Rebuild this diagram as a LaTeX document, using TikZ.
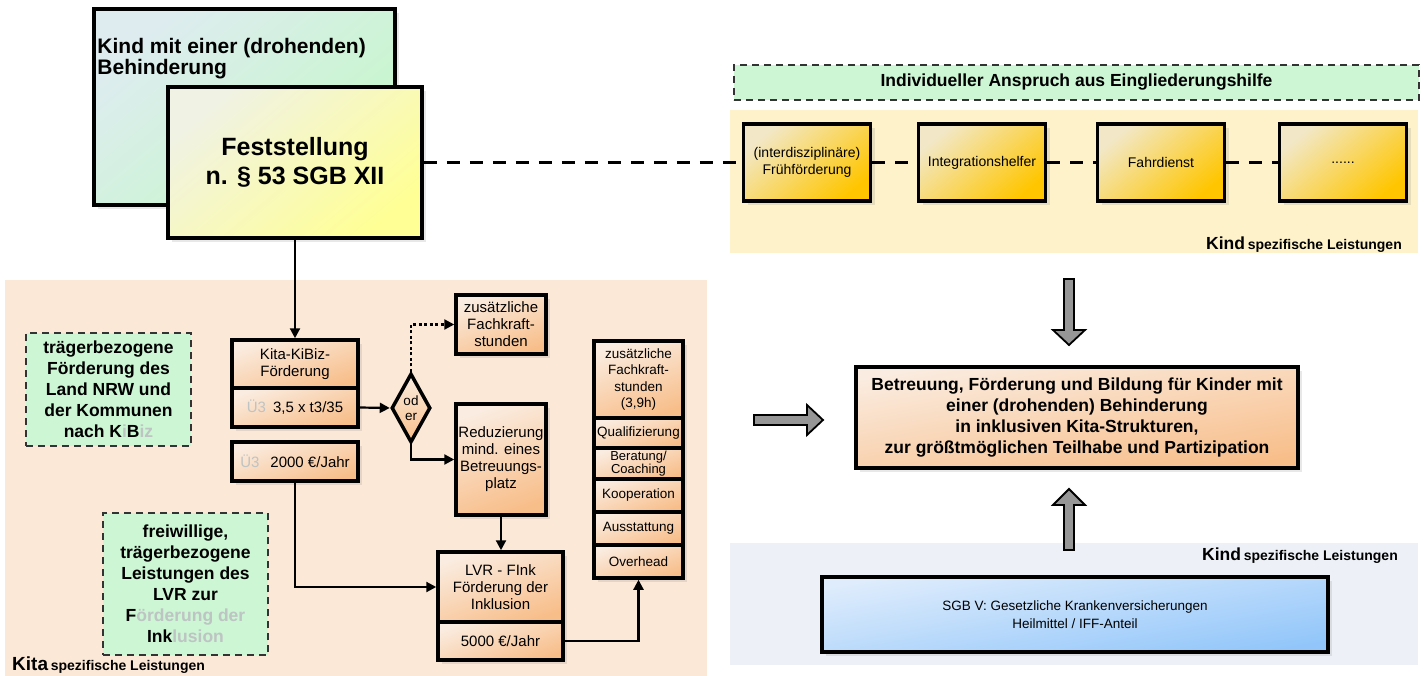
\documentclass[tikz,border=0pt]{standalone}
\usepackage{fontspec}
\setmainfont{Liberation Sans}
\usetikzlibrary{arrows.meta,shapes.geometric,shadows}

\definecolor{kitabg}{RGB}{252,232,214}
\definecolor{kindbg}{RGB}{253,242,202}
\definecolor{sgbbg}{RGB}{237,241,247}
\definecolor{mintA}{RGB}{222,236,240}
\definecolor{mintB}{RGB}{196,248,200}
\definecolor{mintC}{RGB}{204,246,212}
\definecolor{lemonA}{RGB}{240,242,228}
\definecolor{lemonB}{RGB}{255,255,150}
\definecolor{peachA}{RGB}{250,236,224}
\definecolor{peachB}{RGB}{248,190,138}
\definecolor{goldA}{RGB}{242,232,200}
\definecolor{goldB}{RGB}{255,198,0}
\definecolor{skyA}{RGB}{222,236,252}
\definecolor{skyB}{RGB}{146,198,250}
\definecolor{arrgray}{RGB}{150,150,150}
\definecolor{fade}{RGB}{190,195,195}

\tikzset{
  box/.style={draw, line width=3.5pt, align=center, inner sep=1pt,
    drop shadow={shadow xshift=4pt, shadow yshift=-4pt, opacity=0.18}},
  flowbox/.style={box, top color=peachA, bottom color=peachB, shading angle=20,
    font=\fontsize{15}{17}\selectfont},
  colbox/.style={flowbox, minimum width=89, font=\fontsize{13.5}{16.5}\selectfont},
  kindbox/.style={box, top color=goldA, bottom color=goldB, shading angle=40,
    minimum width=127, minimum height=77, font=\fontsize{14}{17}\selectfont},
  infobox/.style={draw=black!80, line width=1.8pt, dash pattern=on 7pt off 5pt,
    fill=mintC, align=center, font=\fontsize{17.5}{21}\selectfont\bfseries},
  conn/.style={line width=2.2pt, -{Triangle[length=10pt,width=10pt]}},
  dashconn/.style={line width=2.2pt, dash pattern=on 13pt off 10pt},
  bigarrow/.style={draw, line width=1.8pt, fill=arrgray, line join=miter},
  leistung/.style={inner sep=0pt}
}

\begin{document}
\begin{tikzpicture}[x=1pt,y=-1pt]
\useasboundingbox (0,0) rectangle (1424,676);

% backgrounds
\fill[kitabg] (5,280) rectangle (707,676);
\fill[kindbg] (730,110) rectangle (1418,253);
\fill[sgbbg] (730,543) rectangle (1418,665);

% top left
\node[box, top color=mintA, bottom color=mintB, shading angle=40,
  minimum width=301, minimum height=196,
  label={[anchor=north west, align=left, inner sep=0pt, xshift=5pt, yshift=-31pt,
    font=\fontsize{21}{21}\selectfont\bfseries]north west:Kind mit einer (drohenden)\\Behinderung}]
  (kind) at (244.5,107) {};
\node[box, top color=lemonA, bottom color=lemonB, shading angle=40,
  minimum width=254, minimum height=151, font=\fontsize{25}{29}\selectfont\bfseries]
  (fest) at (295,162.5) {Feststellung\\n. § 53 SGB XII};

% top right
\node[infobox, minimum width=685, minimum height=35] (anspruch) at (1076.5,82.5)
  {Individueller Anspruch aus Eingliederungshilfe};
\node[kindbox] (frueh) at (807,162.5) {(interdisziplinäre)\\Frühförderung};
\node[kindbox] (integ) at (982,162.5) {Integrationshelfer};
\node[kindbox] (fahr) at (1161,162.5) {Fahrdienst};
\node[kindbox] (weitere) at (1343,162.5) {......};
\node[leistung, anchor=base east] (kindlabA) at (1402,250)
  {{\fontsize{17.5}{18}\selectfont\bfseries Kind} {\fontsize{14}{14}\selectfont\bfseries spezifische Leistungen}};

\draw[dashconn] (fest.east) -- (frueh.west) (frueh.east) -- (integ.west)
  (integ.east) -- (fahr.west) (fahr.east) -- (weitere.west);

% left: Kita
\node[infobox, minimum width=165, minimum height=113] (landinfo) at (108.5,389.5)
  {trägerbezogene\\Förderung des\\Land NRW und\\der Kommunen\\nach K\textcolor{fade}{i}B\textcolor{fade}{iz}};
\node[infobox, minimum width=165, minimum height=142] (lvrinfo) at (185.5,584)
  {freiwillige,\\trägerbezogene\\Leistungen des\\LVR zur\\F\textcolor{fade}{örderung der}\\Ink\textcolor{fade}{lusion}};

\node[flowbox, minimum width=126, minimum height=48] (kibiz) at (295,364) {Kita-KiBiz-\\Förderung};
\node[flowbox, minimum width=126, minimum height=39] (kibizsatz) at (295,407.5)
  {\textcolor{fade}{Ü3}\hspace{7pt}3,5 x t3/35};
\node[flowbox, minimum width=126, minimum height=39] (u3satz) at (295,461.5)
  {\textcolor{fade}{Ü3}\hspace{11pt}2000 €/Jahr};
\node[draw, diamond, line width=3.5pt, top color=peachA, bottom color=peachB,
  aspect=0.5, minimum width=39, minimum height=69, inner sep=0pt, align=center,
  font=\fontsize{13.5}{15}\selectfont] (oder) at (411,408) {od\\er};
\node[flowbox, minimum width=90, minimum height=59] (fkstd) at (501,324.5)
  {zusätzliche\\Fachkraft-\\stunden};
\node[flowbox, minimum width=90, minimum height=111] (reduz) at (501,459.5)
  {Reduzierung\\mind. eines\\Betreuungs-\\platz};
\node[flowbox, minimum width=125, minimum height=70] (fink) at (500.5,587)
  {LVR - FInk\\Förderung der\\Inklusion};
\node[flowbox, minimum width=125, minimum height=38] (finksatz) at (500.5,641) {5000 €/Jahr};

\node[colbox, minimum height=77] (fkplus) at (638.5,379.5) {zusätzliche\\Fachkraft-\\stunden\\(3,9h)};
\node[colbox, minimum height=30] (quali) at (638.5,433) {Qualifizierung};
\node[colbox, minimum height=31, font=\fontsize{13}{13}\selectfont] (beratung) at (638.5,463.5) {Beratung/\\Coaching};
\node[colbox, minimum height=33] (koop) at (638.5,495.5) {Kooperation};
\node[colbox, minimum height=33] (ausst) at (638.5,528.5) {Ausstattung};
\node[colbox, minimum height=33] (overhead) at (638.5,561.5) {Overhead};

\node[leistung, anchor=base west] (kitalab) at (12,670)
  {{\fontsize{19}{19}\selectfont\bfseries Kita} {\fontsize{14}{14}\selectfont\bfseries spezifische Leistungen}};

\draw[conn] (fest.south) -- (kibiz.north);
\draw[conn] (kibizsatz.east) -- (oder.west);
\draw[conn, dash pattern=on 3pt off 2.5pt] (oder.north) |- (fkstd.west);
\draw[conn] (oder.south) |- (reduz.west);
\draw[conn] (reduz.south) -- (reduz.south |- fink.north);
\draw[conn] (u3satz.south) |- (fink.west);
\draw[conn] (finksatz.east) -| (overhead.south);

% right: Ziel
\node[box, top color=peachA, bottom color=peachB, shading angle=10,
  minimum width=442, minimum height=101, font=\fontsize{17.5}{21}\selectfont\bfseries]
  (ziel) at (1077,417.5) {Betreuung, Förderung und Bildung für Kinder mit\\einer (drohenden) Behinderung\\in inklusiven Kita-Strukturen,\\zur größtmöglichen Teilhabe und Partizipation};

\draw[bigarrow] (1064,279) -- (1074,279) -- (1074,330) -- (1085,330) -- (1069,345)
  -- (1053,330) -- (1064,330) -- cycle;
\draw[bigarrow] (1064,550) -- (1074,550) -- (1074,505) -- (1085,505) -- (1069,489)
  -- (1053,505) -- (1064,505) -- cycle;
\draw[bigarrow] (754,415) -- (807,415) -- (807,405) -- (823,420) -- (807,435)
  -- (807,425) -- (754,425) -- cycle;

% SGB V
\node[leistung, anchor=base east] (kindlabB) at (1398,560)
  {{\fontsize{17.5}{18}\selectfont\bfseries Kind} {\fontsize{14}{14}\selectfont\bfseries spezifische Leistungen}};
\node[box, top color=skyA, bottom color=skyB, shading angle=10,
  minimum width=506, minimum height=75, font=\fontsize{13.5}{18}\selectfont]
  (sgbv) at (1075,614.5) {SGB V: Gesetzliche Krankenversicherungen\\Heilmittel / IFF-Anteil};

\end{tikzpicture}
\end{document}
